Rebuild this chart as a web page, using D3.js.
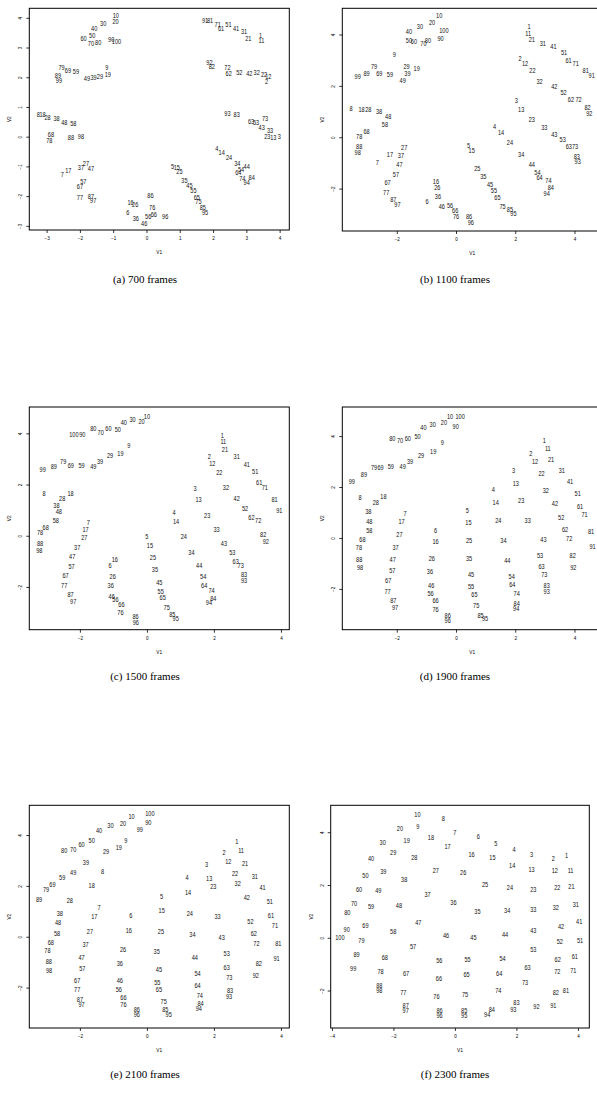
<!DOCTYPE html>
<html><head><meta charset="utf-8">
<script src="https://cdn.jsdelivr.net/npm/d3@7"></script>
<style>
body{margin:0;background:#fff;}
svg{display:block;}
</style></head>
<body>
<svg id="chart" width="597" height="1118"></svg>
<script>
// ---------------- DATA ----------------
const captions = ["(a) 700 frames","(b) 1100 frames","(c) 1500 frames","(d) 1900 frames","(e) 2100 frames","(f) 2300 frames"];

const aLabels = [10,20,30,40,50,60,70,80,90,100,79,69,59,89,99,9,19,49,39,29,8,18,28,38,48,58,68,78,88,98,27,37,47,17,7,57,67,77,87,97,86,16,26,76,6,36,56,66,46,96,91,81,71,61,51,41,31,21,1,11,92,82,72,62,52,42,32,22,12,2,93,83,63,53,73,43,33,23,13,3,4,14,24,34,44,54,64,74,84,94,5,15,25,35,45,55,65,75,85,95];
const aV1 = [-0.92,-0.93,-1.30,-1.57,-1.63,-1.89,-1.67,-1.45,-1.06,-0.90,-2.55,-2.36,-2.12,-2.66,-2.63,-1.19,-1.16,-1.79,-1.59,-1.40,-3.25,-3.12,-2.97,-2.70,-2.47,-2.20,-2.87,-2.92,-2.27,-1.97,-1.82,-1.97,-1.67,-2.35,-2.53,-1.90,-2.00,-2.00,-1.67,-1.60,0.12,-0.48,-0.34,0.17,-0.56,-0.32,0.05,0.22,-0.07,0.56,1.76,1.91,2.14,2.24,2.46,2.69,2.93,3.06,3.43,3.45,1.89,1.96,2.43,2.47,2.79,3.09,3.31,3.53,3.66,3.61,2.43,2.71,3.14,3.29,3.56,3.46,3.71,3.63,3.81,3.99,2.11,2.26,2.48,2.73,3.01,2.84,2.76,2.88,3.16,3.01,0.78,0.91,0.99,1.14,1.29,1.41,1.51,1.56,1.69,1.76];
const aV2 = [4.08,3.87,3.80,3.63,3.41,3.32,3.14,3.19,3.29,3.22,2.33,2.24,2.21,2.08,1.90,2.32,2.11,1.95,2.00,2.02,0.75,0.75,0.66,0.63,0.49,0.46,0.07,-0.12,-0.03,0.02,-0.91,-1.04,-1.07,-1.12,-1.26,-1.49,-1.68,-2.05,-1.99,-2.13,-1.96,-2.22,-2.27,-2.36,-2.53,-2.74,-2.67,-2.62,-2.90,-2.69,3.91,3.93,3.78,3.63,3.79,3.63,3.54,3.31,3.42,3.25,2.49,2.38,2.32,2.13,2.15,2.13,2.15,2.10,2.02,1.85,0.79,0.75,0.53,0.47,0.62,0.30,0.22,0.00,-0.03,0.00,-0.39,-0.54,-0.71,-0.88,-0.99,-1.10,-1.21,-1.40,-1.37,-1.52,-0.98,-1.04,-1.18,-1.46,-1.63,-1.80,-2.04,-2.19,-2.36,-2.53];

const bLabels = [10,20,30,40,50,60,70,80,100,90,9,79,89,99,69,59,29,39,49,19,8,18,28,38,48,58,68,78,88,98,27,37,17,7,47,57,67,77,87,97,16,26,36,6,46,56,66,76,86,96,1,11,21,31,41,51,61,71,81,91,2,12,22,32,42,52,62,72,82,92,3,13,23,33,43,53,63,73,83,93,4,14,24,34,44,54,64,74,84,94,5,15,25,35,45,55,65,75,85,95];
const bV1 = [-0.57,-0.81,-1.22,-1.59,-1.59,-1.42,-1.10,-0.95,-0.41,-0.52,-2.08,-2.77,-3.02,-3.32,-2.59,-2.23,-1.67,-1.64,-1.80,-1.33,-3.54,-3.19,-2.96,-2.60,-2.29,-2.40,-3.02,-3.27,-3.27,-3.32,-1.75,-1.86,-2.23,-2.66,-1.91,-2.03,-2.31,-2.36,-2.12,-1.98,-0.68,-0.63,-0.61,-0.98,-0.48,-0.20,-0.03,0.00,0.44,0.50,2.47,2.44,2.56,2.93,3.29,3.65,3.80,4.04,4.38,4.58,2.16,2.33,2.58,2.82,3.32,3.63,3.88,4.14,4.44,4.50,2.04,2.20,2.56,2.98,3.32,3.60,3.81,4.02,4.08,4.11,1.30,1.52,1.82,2.20,2.56,2.75,2.82,3.12,3.20,3.06,0.42,0.53,0.72,0.92,1.15,1.28,1.40,1.57,1.82,1.94];
const bV2 = [4.73,4.47,4.31,4.12,3.79,3.75,3.66,3.79,4.18,3.86,3.21,2.75,2.47,2.36,2.47,2.44,2.75,2.49,2.23,2.69,1.14,1.09,1.08,1.00,0.83,0.52,0.25,0.05,-0.34,-0.60,-0.40,-0.69,-0.65,-0.99,-1.04,-1.45,-1.77,-2.14,-2.40,-2.61,-1.70,-1.96,-2.31,-2.49,-2.70,-2.66,-2.83,-3.06,-3.09,-3.32,4.31,4.05,3.82,3.66,3.53,3.31,2.99,2.88,2.62,2.40,3.08,2.88,2.62,2.19,1.97,1.74,1.48,1.48,1.17,0.94,1.45,1.10,0.71,0.39,0.12,-0.08,-0.34,-0.34,-0.73,-0.92,0.42,0.19,-0.21,-0.66,-1.04,-1.36,-1.57,-1.69,-1.96,-2.18,-0.30,-0.52,-1.21,-1.51,-1.83,-2.08,-2.35,-2.70,-2.81,-2.96];

const cLabels = [10,20,30,40,50,60,70,80,90,100,9,19,29,39,49,59,69,79,89,99,8,18,28,38,48,58,68,78,88,98,7,17,27,37,47,57,67,77,87,97,16,6,26,36,46,56,66,76,86,96,1,11,21,31,41,51,61,71,81,91,2,12,22,32,42,52,62,72,82,92,3,13,23,33,43,53,63,73,83,93,4,14,24,34,44,54,64,74,84,94,5,15,25,35,45,55,65,75,85,95];
const cV1 = [0.00,-0.16,-0.43,-0.69,-0.87,-1.15,-1.38,-1.60,-1.93,-2.18,-0.54,-0.79,-1.10,-1.40,-1.60,-1.95,-2.27,-2.50,-2.78,-3.11,-3.07,-2.28,-2.53,-2.70,-2.63,-2.72,-3.02,-3.19,-3.19,-3.21,-1.75,-1.83,-1.87,-2.08,-2.23,-2.25,-2.43,-2.47,-2.28,-2.20,-0.96,-1.10,-1.02,-1.08,-1.05,-0.94,-0.76,-0.79,-0.34,-0.33,2.25,2.28,2.33,2.68,2.98,3.23,3.35,3.52,3.81,3.95,1.86,1.95,2.16,2.36,2.68,2.93,3.12,3.32,3.47,3.55,1.44,1.54,1.80,2.08,2.30,2.55,2.65,2.80,2.90,2.90,0.81,0.87,1.10,1.33,1.56,1.68,1.71,1.93,1.98,1.85,0.00,0.09,0.18,0.24,0.37,0.41,0.47,0.59,0.76,0.86];
const cV2 = [4.67,4.48,4.54,4.45,4.17,4.19,4.04,4.19,3.96,3.96,3.54,3.24,3.13,2.92,2.70,2.76,2.76,2.89,2.73,2.60,1.65,1.65,1.48,1.20,0.94,0.61,0.34,0.13,-0.31,-0.57,0.53,0.27,-0.08,-0.47,-0.82,-1.21,-1.54,-1.93,-2.27,-2.58,-0.92,-1.17,-1.58,-1.93,-2.36,-2.49,-2.68,-2.99,-3.13,-3.37,3.91,3.70,3.39,3.09,2.79,2.50,2.08,1.89,1.43,1.00,3.11,2.83,2.47,1.88,1.48,1.09,0.74,0.59,0.07,-0.21,1.85,1.42,0.81,0.25,-0.30,-0.66,-0.98,-1.15,-1.51,-1.73,0.91,0.55,-0.01,-0.63,-1.17,-1.60,-1.93,-2.15,-2.45,-2.60,-0.01,-0.36,-0.83,-1.32,-1.83,-2.17,-2.39,-2.78,-3.08,-3.21];

const dLabels = [10,100,90,20,30,40,50,60,70,80,9,19,29,39,49,59,69,79,89,99,8,18,28,38,48,58,68,78,88,98,7,17,27,37,47,57,67,77,87,97,6,16,26,36,46,56,66,76,86,96,1,11,21,31,41,51,61,71,81,91,2,12,22,32,42,52,62,72,82,92,3,13,23,33,43,53,63,73,83,93,4,14,24,34,44,54,64,74,84,94,5,15,25,35,45,55,65,75,85,95];
const dV1 = [-0.20,0.14,-0.01,-0.41,-0.79,-1.10,-1.30,-1.63,-1.89,-2.15,-0.46,-0.77,-1.18,-1.55,-1.80,-2.20,-2.55,-2.77,-3.11,-3.52,-3.24,-2.45,-2.71,-2.96,-2.93,-2.93,-3.16,-3.28,-3.27,-3.24,-1.72,-1.84,-1.91,-2.04,-2.14,-2.15,-2.29,-2.31,-2.12,-2.06,-0.69,-0.69,-0.82,-0.88,-0.84,-0.86,-0.69,-0.69,-0.28,-0.28,2.98,3.10,3.21,3.57,3.85,4.11,4.19,4.34,4.56,4.61,2.53,2.67,2.89,3.03,3.34,3.55,3.68,3.82,3.94,3.96,1.94,2.02,2.20,2.42,2.95,2.84,2.89,2.98,3.06,3.06,1.26,1.34,1.43,1.60,1.73,1.88,1.90,2.05,2.05,2.03,0.38,0.42,0.44,0.44,0.51,0.51,0.62,0.68,0.83,0.98];
const dV2 = [4.78,4.76,4.37,4.52,4.47,4.33,4.00,3.93,3.84,3.91,3.74,3.39,3.25,2.99,2.80,2.82,2.77,2.77,2.51,2.24,1.58,1.62,1.40,1.03,0.67,0.29,-0.05,-0.38,-0.84,-1.16,0.97,0.64,0.16,-0.38,-0.84,-1.28,-1.67,-2.10,-2.46,-2.72,0.29,-0.14,-0.80,-1.32,-1.84,-2.17,-2.46,-2.80,-3.02,-3.25,3.82,3.52,3.08,2.64,2.21,1.75,1.25,0.93,0.27,-0.34,3.32,2.99,2.54,1.88,1.36,0.80,0.35,-0.01,-0.67,-1.16,2.67,2.14,1.49,0.68,-0.05,-0.67,-1.12,-1.42,-1.87,-2.08,1.91,1.40,0.71,-0.08,-0.86,-1.49,-1.82,-2.17,-2.56,-2.78,1.10,0.60,-0.08,-0.80,-1.41,-1.91,-2.20,-2.63,-3.02,-3.15];

const eLabels = [10,100,90,99,20,30,40,50,60,70,80,9,19,29,39,49,59,69,79,89,8,18,28,38,48,58,68,78,88,98,7,17,27,37,47,57,67,77,87,97,6,16,26,36,46,56,66,76,86,96,1,11,21,31,41,51,61,71,81,91,2,12,22,32,42,52,62,72,82,92,3,13,23,33,43,53,63,73,83,93,4,14,24,34,44,54,64,74,84,94,5,15,25,35,45,55,65,75,85,95];
const eV1 = [-0.46,0.09,0.04,-0.21,-0.71,-1.09,-1.43,-1.65,-1.95,-2.20,-2.47,-0.63,-0.84,-1.22,-1.82,-2.20,-2.53,-2.82,-3.01,-3.22,-1.32,-1.65,-2.30,-2.60,-2.65,-2.68,-2.87,-2.97,-2.93,-2.92,-1.43,-1.57,-1.70,-1.83,-1.95,-1.93,-2.08,-2.08,-2.00,-1.95,-0.48,-0.54,-0.71,-0.81,-0.81,-0.84,-0.70,-0.70,-0.30,-0.30,2.68,2.81,2.93,3.22,3.45,3.67,3.70,3.82,3.92,3.87,2.30,2.43,2.63,2.71,2.98,3.09,3.19,3.27,3.34,3.25,1.78,1.86,1.98,2.11,2.23,2.38,2.38,2.46,2.48,2.45,1.20,1.23,1.28,1.36,1.43,1.51,1.51,1.58,1.60,1.55,0.44,0.44,0.42,0.29,0.36,0.31,0.36,0.50,0.55,0.65];
const eV2 = [4.74,4.85,4.52,4.23,4.48,4.39,4.19,3.80,3.64,3.43,3.41,3.80,3.50,3.37,2.92,2.53,2.33,2.07,1.87,1.48,2.58,2.02,1.42,0.92,0.56,0.13,-0.22,-0.52,-0.98,-1.31,1.14,0.79,0.22,-0.30,-0.79,-1.25,-1.70,-2.07,-2.45,-2.65,0.83,0.26,-0.48,-1.05,-1.70,-2.07,-2.40,-2.65,-2.85,-3.05,3.74,3.41,2.88,2.39,1.93,1.38,0.85,0.46,-0.26,-0.85,3.34,2.95,2.49,2.12,1.57,0.62,0.13,-0.26,-1.05,-1.51,2.84,2.29,1.97,0.79,-0.03,-0.66,-1.21,-1.61,-2.12,-2.35,2.32,1.73,0.92,0.09,-0.79,-1.42,-1.90,-2.29,-2.60,-2.80,1.60,1.02,0.20,-0.59,-1.28,-1.80,-2.06,-2.55,-2.85,-3.05];

const fLabels = [10,8,9,20,7,18,17,19,30,29,28,40,27,39,38,50,60,49,37,36,48,70,80,59,47,69,90,58,100,79,46,57,89,68,56,99,78,67,66,88,98,77,76,87,97,6,5,4,3,2,1,16,15,14,13,12,11,26,25,24,23,22,21,35,34,33,32,31,42,41,45,44,43,52,51,53,55,54,62,61,63,65,64,72,71,73,74,75,82,81,86,96,85,95,84,94,83,93,92,91];
const fV1 = [-1.22,-0.38,-1.21,-1.79,0.00,-0.78,-0.24,-1.57,-2.35,-2.01,-1.32,-2.73,-0.62,-2.33,-1.65,-2.91,-3.12,-2.49,-0.89,-0.05,-1.82,-3.28,-3.50,-2.73,-1.19,-2.91,-3.52,-2.01,-3.74,-3.04,-0.29,-1.36,-3.20,-2.28,-0.51,-3.31,-2.42,-1.59,-0.52,-2.46,-2.46,-1.68,-0.60,-1.60,-1.60,0.76,1.33,1.92,2.49,3.20,3.63,0.54,1.22,1.86,2.49,3.25,3.76,0.27,0.98,1.79,2.55,3.33,3.79,0.73,1.70,2.55,3.28,3.93,3.45,4.04,0.60,1.63,2.55,3.41,4.07,2.55,0.41,1.55,3.34,3.90,2.36,0.38,1.44,3.33,3.85,2.28,1.41,0.33,3.28,3.61,-0.50,-0.50,0.30,0.30,1.20,1.05,2.00,1.90,2.65,3.20];
const fV2 = [4.68,4.52,4.23,4.14,3.98,3.80,3.47,3.70,3.61,3.23,3.04,3.01,2.56,2.50,2.22,2.35,1.83,1.81,1.65,1.34,1.24,1.30,0.96,1.20,0.58,0.48,0.33,0.23,0.01,-0.09,0.08,-0.34,-0.62,-0.74,-0.85,-1.16,-1.26,-1.33,-1.54,-1.79,-2.01,-2.05,-2.20,-2.55,-2.75,3.85,3.57,3.36,3.17,3.01,3.11,3.16,3.04,2.75,2.60,2.54,2.56,2.47,2.03,1.93,1.84,1.93,1.96,1.01,1.05,1.07,1.15,1.26,0.45,0.64,0.01,0.14,0.29,-0.15,-0.09,-0.43,-0.81,-0.78,-0.82,-0.72,-1.12,-1.38,-1.33,-1.29,-1.25,-1.69,-2.01,-2.15,-2.07,-2.01,-2.75,-2.95,-2.75,-2.95,-2.70,-2.90,-2.45,-2.70,-2.60,-2.55];

const ticksA = [-3,-2,-1,0,1,2,3,4];
const ticksB = [-2,0,2,4];
const ticksF = [-4,-2,0,2,4];

// ---------------- LAYOUT ----------------
const panels = [
  {labels:aLabels, v1:aV1, v2:aV2, cap:captions[0], box:[29.3,8.3,289.3,230], xd:[-3.52,4.29], yd:[-3.14,4.32], xt:ticksA, yt:ticksA, capX:145, capY:283},
  {labels:bLabels, v1:bV1, v2:bV2, cap:captions[1], box:[342.3,8.3,602.3,231], xd:[-3.84,4.94], yd:[-3.65,5.02], xt:ticksB, yt:ticksB, capX:455, capY:283},
  {labels:cLabels, v1:cV1, v2:cV2, cap:captions[2], box:[29.3,407,289.3,629.7], xd:[-3.51,4.25], yd:[-3.67,5.03], xt:ticksB, yt:ticksB, capX:145, capY:680},
  {labels:dLabels, v1:dV1, v2:dV2, cap:captions[3], box:[342.3,407,602.3,629.7], xd:[-3.84,4.94], yd:[-3.60,5.14], xt:ticksB, yt:ticksB, capX:455, capY:680},
  {labels:eLabels, v1:eV1, v2:eV2, cap:captions[4], box:[29.3,805.3,289.3,1028], xd:[-3.51,4.25], yd:[-3.59,5.17], xt:ticksB, yt:ticksB, capX:145, capY:1078},
  {labels:fLabels, v1:fV1, v2:fV2, cap:captions[5], box:[330.7,805.3,589.3,1028], xd:[-4.04,4.37], yd:[-3.42,5.02], xt:ticksF, yt:ticksB, capX:455, capY:1078}
];

const svg = d3.select("#chart");
const labFont = "'Liberation Sans', Arial, sans-serif";

panels.forEach(p => {
  const [l,t,r,b] = p.box;
  const x = d3.scaleLinear().domain(p.xd).range([l,r]);
  const y = d3.scaleLinear().domain(p.yd).range([b,t]);
  const g = svg.append("g");

  const xa = g.append("g").attr("transform",`translate(0,${b})`)
    .call(d3.axisBottom(x).tickValues(p.xt).tickSize(3).tickPadding(4).tickFormat(d3.format("d")));
  xa.select(".domain").remove();
  xa.selectAll("line").attr("stroke","#000").attr("stroke-width",0.8);
  xa.selectAll("text").attr("font-family",labFont).attr("font-size",4.6).attr("fill","#000")
    .text(d=>String(d).replace("-","−"));

  const ya = g.append("g").attr("transform",`translate(${l},0)`)
    .call(d3.axisLeft(y).tickValues(p.yt).tickSize(3).tickPadding(4).tickFormat(d3.format("d")));
  ya.select(".domain").remove();
  ya.selectAll("line").attr("stroke","#000").attr("stroke-width",0.8);
  ya.selectAll(".tick text").attr("font-family",labFont).attr("font-size",4.6).attr("fill","#000")
    .attr("text-anchor","middle").attr("dy",null).attr("x",0).attr("y",0)
    .attr("dominant-baseline","central")
    .attr("transform","translate(-8.5,0) rotate(-90)")
    .text(d=>String(d).replace("-","−"));

  g.append("rect").attr("x",l).attr("y",t).attr("width",r-l).attr("height",b-t)
    .attr("fill","none").attr("stroke","#000").attr("stroke-width",1);

  g.append("text").attr("x",(l+r)/2).attr("y",b+24).attr("text-anchor","middle")
    .attr("font-family",labFont).attr("font-size",4.8).text("V1");
  g.append("text").attr("transform",`translate(${l-18},${(t+b)/2}) rotate(-90)`)
    .attr("text-anchor","middle").attr("font-family",labFont).attr("font-size",4.8).text("V2");

  const pts = p.labels.map((lab,i)=>({lab, a:p.v1[i], c:p.v2[i]}));
  g.append("g").selectAll("text").data(pts).join("text")
    .attr("transform",d=>`translate(${x(d.a)},${y(d.c)}) scale(0.85,1)`)
    .attr("text-anchor","middle").attr("dominant-baseline","central")
    .attr("font-family",labFont).attr("font-size",6.6).attr("fill","#111")
    .text(d=>d.lab);

  svg.append("text").attr("x",p.capX).attr("y",p.capY).attr("text-anchor","middle")
    .attr("font-family","'Liberation Serif','DejaVu Serif',serif").attr("font-size",11)
    .text(p.cap);
});
</script>
</body></html>
